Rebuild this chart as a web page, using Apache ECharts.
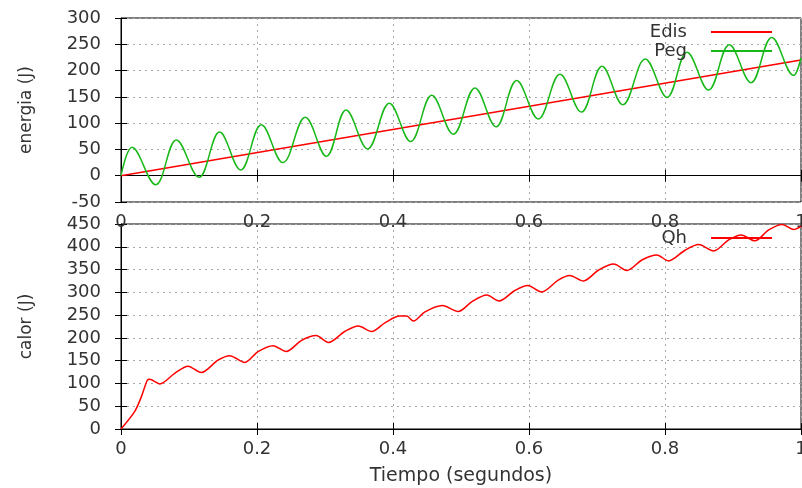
<!DOCTYPE html>
<html>
<head>
<meta charset="utf-8">
<script src="https://cdn.jsdelivr.net/npm/echarts@6/dist/echarts.min.js"></script>
<style>
html,body{margin:0;padding:0;background:#fff;overflow:hidden;}
#c{width:802px;height:488px;}
</style>
</head>
<body>
<div id="c"></div>
<script>
// ---- data ----
const edisT = [0, 1.0];
const edisV = [0, 220];

const pegT = [0, 0.0162, 0.051, 0.0814, 0.1147, 0.145, 0.176, 0.2064, 0.238, 0.271, 0.302, 0.331,
  0.3627, 0.3946, 0.426, 0.457, 0.4887, 0.5206, 0.5515, 0.5819, 0.6137, 0.6456, 0.677, 0.7074,
  0.738, 0.771, 0.803, 0.8324, 0.864, 0.8946, 0.9265, 0.957, 0.989, 1.0];
const pegV = [0, 54, -17, 68, -3, 83, 11, 97, 25, 111, 37, 125,
  51, 138, 65, 153, 79, 167, 93, 181, 108, 193, 121, 208,
  135, 222, 149, 235, 163, 249, 177, 263, 191, 224];

const qhT = [0, 0.020, 0.030, 0.0387, 0.042, 0.057, 0.0789, 0.0985, 0.118, 0.1426, 0.1598, 0.182,
  0.2015, 0.2235, 0.243, 0.265, 0.287, 0.305, 0.329, 0.349, 0.3687, 0.388, 0.410, 0.42, 0.43,
  0.447, 0.4725, 0.496, 0.5157, 0.5378, 0.556, 0.579, 0.598, 0.6187, 0.643, 0.660, 0.680,
  0.7025, 0.7245, 0.744, 0.766, 0.788, 0.805, 0.83, 0.8495, 0.8716, 0.8936, 0.912, 0.932,
  0.9525, 0.972, 0.989, 1.0];
const qhV = [0, 38, 71, 107, 109, 99, 122, 138, 124, 151, 161, 146,
  170, 183, 170, 194, 205, 190, 214, 226, 214, 233, 248, 248, 237,
  257, 271, 258, 279, 294, 281, 304, 315, 301, 327, 337, 325,
  349, 362, 348, 371, 382, 369, 393, 405, 391, 415, 426, 413,
  437, 449, 438, 445];

const xTicks = {min: 0, max: 1, interval: 0.2};
const yTopTicks = {min: -50, max: 300, interval: 50};
const yBotTicks = {min: 0, max: 450, interval: 50};

const xTitle = 'Tiempo (segundos)';
const yTopTitle = 'energia (J)';
const yBotTitle = 'calor (J)';

// ---- chart ----
const FONT = 'DejaVu Sans';
const TXT = '#333';
const zip = (a, b) => a.map((v, i) => [v, b[i]]);

const gridLine = {show: true, lineStyle: {color: '#a8a8a8', type: [2, 4], width: 1}};
const tick = {show: true, inside: true, length: 6, lineStyle: {color: '#000'}};

function mainX(gi, extra) {
  return Object.assign({
    type: 'value', gridIndex: gi, position: 'bottom',
    min: xTicks.min, max: xTicks.max, interval: xTicks.interval,
    axisLine: {show: true, lineStyle: {color: '#000'}},
    axisTick: tick,
    axisLabel: {fontFamily: FONT, fontSize: 18, color: TXT, margin: 11, showMinLabel: true, showMaxLabel: true},
    splitLine: gridLine
  }, extra || {});
}
function mirrorX(gi) {
  return {type: 'value', gridIndex: gi, position: 'top',
    min: xTicks.min, max: xTicks.max, interval: xTicks.interval,
    axisLine: {show: false}, axisTick: tick, axisLabel: {show: false}, splitLine: {show: false}};
}
function mainY(gi, t, name) {
  return {type: 'value', gridIndex: gi, position: 'left',
    min: t.min, max: t.max, interval: t.interval,
    name: name, nameLocation: 'middle', nameGap: 86, nameRotate: 90,
    nameTextStyle: {fontFamily: FONT, fontSize: 17, color: TXT},
    axisLine: {show: true, lineStyle: {color: '#000'}},
    axisTick: tick,
    axisLabel: {fontFamily: FONT, fontSize: 18, color: TXT, margin: 20, showMinLabel: true, showMaxLabel: true},
    splitLine: gridLine};
}
function mirrorY(gi, t) {
  return {type: 'value', gridIndex: gi, position: 'right',
    min: t.min, max: t.max, interval: t.interval,
    axisLine: {show: false}, axisTick: tick, axisLabel: {show: false}, splitLine: {show: false}};
}

const legendBase = {
  orient: 'vertical', right: 25, align: 'right', icon: 'rect',
  itemWidth: 61, itemHeight: 2, itemGap: 1, selectedMode: false,
  textStyle: {fontFamily: FONT, fontSize: 18, color: TXT, padding: [0, 19, 0, 0]}
};

const chart = echarts.init(document.getElementById('c'), null, {renderer: 'canvas', width: 802, height: 488});
chart.setOption({
  animation: false,
  backgroundColor: '#fff',
  grid: [
    {left: 121, top: 18, right: 1, height: 184, show: true, borderColor: '#000', borderWidth: 1,
      containLabel: false, outerBoundsMode: 'none'},
    {left: 121, top: 224, right: 1, height: 205, show: true, borderColor: '#000', borderWidth: 1,
      containLabel: false, outerBoundsMode: 'none'}
  ],
  xAxis: [
    mainX(0),
    mirrorX(0),
    mainX(1, {name: xTitle, nameLocation: 'middle', nameGap: 38,
      nameTextStyle: {fontFamily: FONT, fontSize: 19, color: TXT}}),
    mirrorX(1)
  ],
  yAxis: [
    mainY(0, yTopTicks, yTopTitle),
    mirrorY(0, yTopTicks),
    mainY(1, yBotTicks, yBotTitle),
    mirrorY(1, yBotTicks)
  ],
  legend: [
    Object.assign({}, legendBase, {data: ['Edis', 'Peg'], top: 18}),
    Object.assign({}, legendBase, {data: ['Qh'], top: 224})
  ],
  series: [
    {name: 'Edis', type: 'line', xAxisIndex: 0, yAxisIndex: 0, data: zip(edisT, edisV),
      showSymbol: false, lineStyle: {color: '#ff0000', width: 1.5}, itemStyle: {color: '#ff0000'}},
    {name: 'Peg', type: 'line', xAxisIndex: 0, yAxisIndex: 0, data: zip(pegT, pegV),
      smooth: 0.38, showSymbol: false, lineStyle: {color: '#18b818', width: 1.5}, itemStyle: {color: '#18b818'}},
    {name: 'Qh', type: 'line', xAxisIndex: 2, yAxisIndex: 2, data: zip(qhT, qhV),
      smooth: 0.3, showSymbol: false, lineStyle: {color: '#ff0000', width: 1.5}, itemStyle: {color: '#ff0000'}}
  ]
});
</script>
</body>
</html>
